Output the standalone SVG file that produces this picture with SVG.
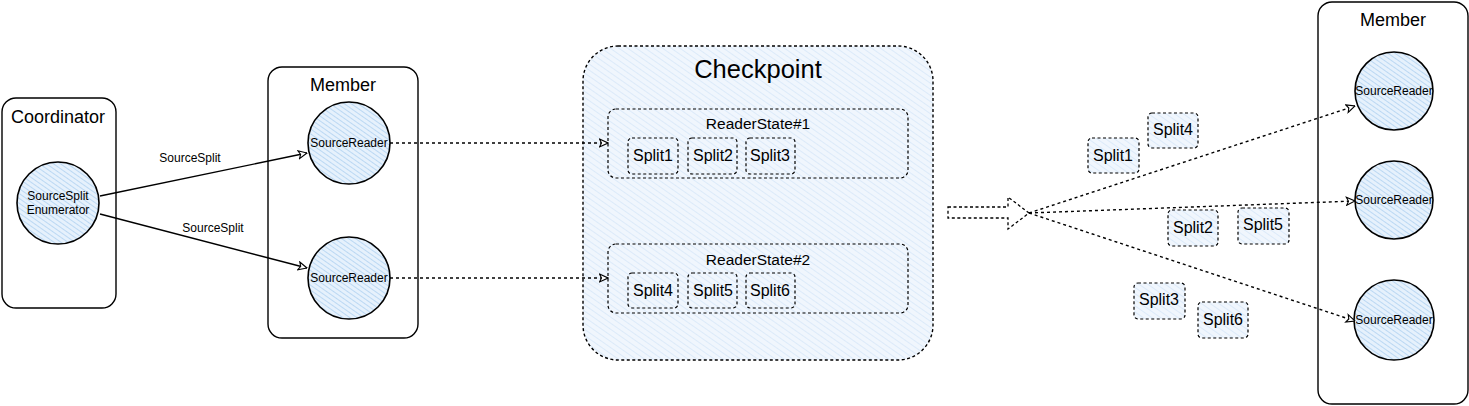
<svg xmlns="http://www.w3.org/2000/svg" width="1469" height="406" viewBox="0 0 1469 406">
<style>
text{font-family:"Liberation Sans",Arial,sans-serif;fill:#000;text-anchor:middle;dominant-baseline:central}
.box{fill:#fff;stroke:#000;stroke-width:1.4}
.circ{fill:url(#hatch);stroke:#000;stroke-width:1.6}
.dbox{fill:url(#hatchL);stroke:#000;stroke-width:1.2;stroke-dasharray:3 2.5}
.cp{fill:url(#hatchL);stroke:#000;stroke-width:1.4;stroke-dasharray:3 2.5}
.line{fill:none;stroke:#000;stroke-width:1.4}
.dline{fill:none;stroke:#000;stroke-width:1.4;stroke-dasharray:3 3}
.t18{font-size:18px}.t25{font-size:25.5px}.t15{font-size:15.5px}.t16{font-size:16px}.t12{font-size:12px}
</style>
<defs>
<pattern id="hatch" width="4" height="4" patternUnits="userSpaceOnUse" patternTransform="rotate(-55)">
<rect width="4" height="4" fill="#e6f1fc"/>
<line x1="0" y1="0" x2="0" y2="4" stroke="#a9cdf0" stroke-width="1.4"/>
</pattern>
<pattern id="hatchL" width="5" height="5" patternUnits="userSpaceOnUse" patternTransform="rotate(-55)">
<rect width="5" height="5" fill="#f0f6fd"/>
<line x1="0" y1="0" x2="0" y2="5" stroke="#cfe3f7" stroke-width="1.2"/>
</pattern>
<marker id="arr" viewBox="0 0 10 10" refX="9.5" refY="5" markerWidth="10" markerHeight="10" markerUnits="userSpaceOnUse" orient="auto">
<path d="M1,1 L9.5,5 L1,9 L3,5 Z" fill="#fff" stroke="#000" stroke-width="1.1" stroke-dasharray="none"/>
</marker>
</defs>

<g id="coordinator">
<rect class="box" x="2" y="98" width="114" height="210" rx="14"/>
<text class="t18" x="58" y="117">Coordinator</text>
</g>
<g id="enumerator">
<circle class="circ" cx="58" cy="203" r="41"/>
<text class="t12" x="58" y="196">SourceSplit</text>
<text class="t12" x="58" y="210">Enumerator</text>
</g>

<g id="member1">
<rect class="box" x="268" y="67" width="150" height="271" rx="14"/>
<text class="t18" x="343" y="85">Member</text>
</g>
<g id="reader1">
<circle class="circ" cx="349" cy="143" r="41"/>
<text class="t12" x="349" y="143">SourceReader</text>
</g>
<g id="reader2">
<circle class="circ" cx="349" cy="278" r="41"/>
<text class="t12" x="349" y="278">SourceReader</text>
</g>

<g id="checkpoint">
<rect class="cp" x="583" y="46" width="350" height="314" rx="35"/>
<text class="t25" x="758" y="69">Checkpoint</text>
</g>
<g id="readerstate1">
<rect class="dbox" x="608" y="109" width="300" height="69" rx="8"/>
<text class="t15" x="758" y="123">ReaderState#1</text>
</g>
<g id="cp-split1"><rect class="dbox" x="628" y="138" width="50" height="36" rx="4"/><text class="t16" x="653" y="155">Split1</text></g>
<g id="cp-split2"><rect class="dbox" x="688" y="138" width="49" height="36" rx="4"/><text class="t16" x="713" y="155">Split2</text></g>
<g id="cp-split3"><rect class="dbox" x="746" y="138" width="49" height="36" rx="4"/><text class="t16" x="770" y="155">Split3</text></g>
<g id="readerstate2">
<rect class="dbox" x="608" y="244" width="300" height="69" rx="8"/>
<text class="t15" x="758" y="259">ReaderState#2</text>
</g>
<g id="cp-split4"><rect class="dbox" x="628" y="273" width="50" height="35" rx="4"/><text class="t16" x="653" y="290">Split4</text></g>
<g id="cp-split5"><rect class="dbox" x="688" y="273" width="49" height="35" rx="4"/><text class="t16" x="713" y="290">Split5</text></g>
<g id="cp-split6"><rect class="dbox" x="746" y="273" width="49" height="35" rx="4"/><text class="t16" x="770" y="290">Split6</text></g>

<g id="bigarrow">
<path d="M948,207 L1008,207 L1008,197 L1029,213 L1008,229 L1008,218 L948,218 Z" fill="#fff" stroke="#000" stroke-width="1.3" stroke-dasharray="3 2.5"/>
</g>

<g id="member2">
<rect class="box" x="1318" y="2" width="150" height="402" rx="14"/>
<text class="t18" x="1393" y="20">Member</text>
</g>
<g id="reader3">
<circle class="circ" cx="1394" cy="91" r="39"/>
<text class="t12" x="1394" y="91">SourceReader</text>
</g>
<g id="reader4">
<circle class="circ" cx="1394" cy="200" r="39"/>
<text class="t12" x="1394" y="200">SourceReader</text>
</g>
<g id="reader5">
<circle class="circ" cx="1394" cy="320" r="40"/>
<text class="t12" x="1394" y="320">SourceReader</text>
</g>

<g id="r-split1"><rect class="dbox" x="1088" y="138" width="51" height="35" rx="4"/><text class="t16" x="1113" y="155">Split1</text></g>
<g id="r-split4"><rect class="dbox" x="1148" y="113" width="50" height="35" rx="4"/><text class="t16" x="1173" y="129">Split4</text></g>
<g id="r-split2"><rect class="dbox" x="1168" y="210" width="50" height="36" rx="4"/><text class="t16" x="1193" y="227">Split2</text></g>
<g id="r-split5"><rect class="dbox" x="1238" y="208" width="51" height="36" rx="4"/><text class="t16" x="1263" y="224">Split5</text></g>
<g id="r-split3"><rect class="dbox" x="1134" y="283" width="51" height="36" rx="4"/><text class="t16" x="1159" y="299">Split3</text></g>
<g id="r-split6"><rect class="dbox" x="1198" y="302" width="50" height="36" rx="4"/><text class="t16" x="1223" y="319">Split6</text></g>

<g id="connectors">
<path class="line" d="M100,196 L307,153" marker-end="url(#arr)"/>
<text class="t12" x="190" y="158">SourceSplit</text>
<path class="line" d="M100,214 L307,268" marker-end="url(#arr)"/>
<text class="t12" x="213" y="228">SourceSplit</text>
<path class="dline" d="M390,143 L608,143" marker-end="url(#arr)"/>
<path class="dline" d="M390,278 L608,278" marker-end="url(#arr)"/>
<path class="dline" d="M1029,213 L1355,106" marker-end="url(#arr)"/>
<path class="dline" d="M1029,213 L1355,201" marker-end="url(#arr)"/>
<path class="dline" d="M1029,213 L1355,321" marker-end="url(#arr)"/>
</g>
</svg>
